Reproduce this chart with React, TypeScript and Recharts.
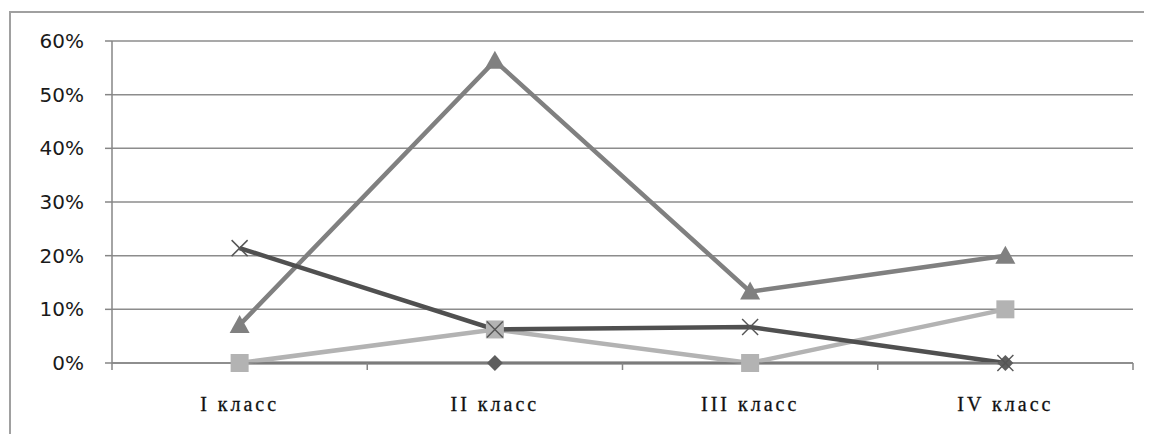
import React from 'react';
import { LineChart, Line, XAxis, YAxis, CartesianGrid } from 'recharts';

const categories = ['I класс', 'II класс', 'III класс', 'IV класс'];
const diamondSeries = [0, 0, 0, 0];
const squareSeries = [0, 6.25, 0, 10];
const triangleSeries = [7.1, 56.3, 13.3, 20];
const crossSeries = [21.4, 6.25, 6.7, 0];
const yTicks = [0, 10, 20, 30, 40, 50, 60];

// positions on a 0..4 numeric axis: category i sits in the middle of its band
const data = categories.map((name, i) => ({
  name,
  pos: i + 0.5,
  diamond: diamondSeries[i],
  square: squareSeries[i],
  triangle: triangleSeries[i],
  cross: crossSeries[i],
}));
const xTicks = [0, 0.5, 1, 1.5, 2, 2.5, 3, 3.5, 4];

const Diamond = (props: any) => {
  const { cx, cy } = props;
  if (cx == null || cy == null) return null;
  const r = 8;
  return (
    <path
      d={`M${cx},${cy - r}L${cx + r},${cy}L${cx},${cy + r}L${cx - r},${cy}Z`}
      fill="#5e5e5e"
    />
  );
};

const Square = (props: any) => {
  const { cx, cy } = props;
  if (cx == null || cy == null) return null;
  const s = 9;
  return <rect x={cx - s} y={cy - s} width={s * 2} height={s * 2} fill="#b3b3b3" />;
};

const Triangle = (props: any) => {
  const { cx, cy } = props;
  if (cx == null || cy == null) return null;
  return (
    <path
      d={`M${cx},${cy - 10}L${cx + 10},${cy + 8}L${cx - 10},${cy + 8}Z`}
      fill="#808080"
    />
  );
};

const Cross = (props: any) => {
  const { cx, cy } = props;
  if (cx == null || cy == null) return null;
  const r = 8;
  return (
    <g stroke="#555555" strokeWidth={1.5}>
      <line x1={cx - r} y1={cy - r} x2={cx + r} y2={cy + r} />
      <line x1={cx - r} y1={cy + r} x2={cx + r} y2={cy - r} />
    </g>
  );
};

const XTick = (props: any) => {
  const { x, y, payload } = props;
  const v = payload.value;
  if (Number.isInteger(v)) {
    return <line x1={x} y1={y} x2={x} y2={y + 7} stroke="#868686" strokeWidth={1.5} />;
  }
  const label = categories[Math.floor(v)];
  return (
    <text
      x={x}
      y={y + 48}
      textAnchor="middle"
      fontFamily="'Liberation Serif', serif"
      fontSize={20}
      letterSpacing={3}
      stroke="#111"
      strokeWidth={0.3}
      fill="#111"
    >
      {label}
    </text>
  );
};

export default function App() {
  return (
    <div style={{ position: 'relative', width: 1152, height: 442, margin: -8, overflow: 'hidden', background: '#fff' }}>
      <div
        style={{
          position: 'absolute',
          left: 9,
          top: 11,
          width: 1170,
          height: 460,
          border: '2px solid #a0a0a0',
        }}
      />
      <div style={{ position: 'absolute', left: 0, top: 0 }}>
        <LineChart width={1152} height={442} data={data} margin={{ top: 41, right: 19, bottom: 49, left: 0 }}>
          <CartesianGrid horizontal vertical={false} stroke="#8c8c8c" strokeWidth={1.5} />
          <XAxis
            type="number"
            dataKey="pos"
            domain={[0, 4]}
            ticks={xTicks}
            interval={0}
            height={30}
            tickSize={0}
            tickMargin={0}
            tickLine={false}
            stroke="#868686"
            strokeWidth={1.5}
            tick={<XTick />}
          />
          <YAxis
            width={112}
            domain={[0, 60]}
            ticks={yTicks}
            interval={0}
            tickFormatter={(v: number) => `${v}%`}
            tickSize={7}
            tickMargin={21}
            stroke="#868686"
            strokeWidth={1.5}
            tick={{ fill: '#1a1a1a', fontSize: 20, fontFamily: "'DejaVu Sans', sans-serif" }}
          />
          <Line
            dataKey="diamond"
            stroke="#5e5e5e"
            strokeWidth={3}
            dot={<Diamond />}
            activeDot={false}
            isAnimationActive={false}
          />
          <Line
            dataKey="square"
            stroke="#b3b3b3"
            strokeWidth={4.5}
            dot={<Square />}
            activeDot={false}
            isAnimationActive={false}
          />
          <Line
            dataKey="triangle"
            stroke="#808080"
            strokeWidth={4.5}
            dot={<Triangle />}
            activeDot={false}
            isAnimationActive={false}
          />
          <Line
            dataKey="cross"
            stroke="#505050"
            strokeWidth={4.5}
            dot={<Cross />}
            activeDot={false}
            isAnimationActive={false}
          />
        </LineChart>
      </div>
    </div>
  );
}
